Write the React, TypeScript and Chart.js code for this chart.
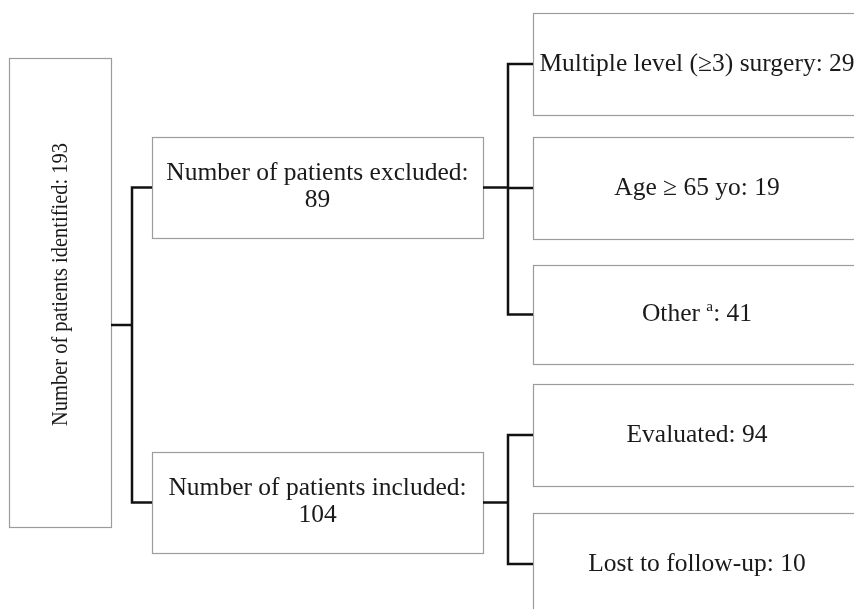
import React, { useEffect, useRef } from "react";
import { Chart, registerables } from "chart.js";

Chart.register(...registerables);

// ---- Data (flowchart content) ----
const ROOT_LABEL = "Number of patients identified";
const ROOT_COUNT = 193;
const GROUP_LABELS = ["Number of patients excluded", "Number of patients included"];
const GROUP_COUNTS = [89, 104];
const EXCLUSION_REASONS = ["Multiple level (\u22653) surgery", "Age \u2265 65 yo", "Other"];
const EXCLUSION_FOOTNOTES = ["", "", "a"];
const EXCLUSION_COUNTS = [29, 19, 41];
const INCLUDED_OUTCOMES = ["Evaluated", "Lost to follow-up"];
const INCLUDED_FOOTNOTES = ["", ""];
const INCLUDED_COUNTS = [94, 10];

// ---- Layout (scale units) ----
const SCALE_W = 854;
const SCALE_H = 609;
const COL_X: [number, number][] = [
  [9, 111],
  [152, 483],
  [533, 861],
];
const JUNCTION_X = [132, 508];
const ROOT_Y: [number, number] = [58, 527];
const ROOT_JOIN_Y = 325;
const GROUP_Y: [number, number][] = [
  [137, 238],
  [452, 553],
];
const CHILD_Y: [number, number][][] = [
  [
    [13, 115],
    [137, 239],
    [265, 364],
  ],
  [
    [384, 486],
    [513, 615],
  ],
];

const FONT_FAMILY = "'Times New Roman', 'Liberation Serif', serif";
const FONT_SIZE = 25.5;
const ROOT_FONT_SIZE = 22.5;
const ROOT_TEXT_LEN = 283;
const BOX_COLOR = "#9c9c9c";
const LINE_COLOR = "#111111";
const TEXT_COLOR = "#1a1a1a";

const mid = (r: [number, number]) => (r[0] + r[1]) / 2;

function buildConnectors() {
  const sets: { x: number; y: number }[][] = [];
  sets.push([
    { x: COL_X[0][1], y: ROOT_JOIN_Y },
    { x: JUNCTION_X[0], y: ROOT_JOIN_Y },
  ]);
  const g0 = mid(GROUP_Y[0]);
  const g1 = mid(GROUP_Y[GROUP_Y.length - 1]);
  sets.push([
    { x: COL_X[1][0], y: g0 },
    { x: JUNCTION_X[0], y: g0 },
    { x: JUNCTION_X[0], y: g1 },
    { x: COL_X[1][0], y: g1 },
  ]);
  GROUP_Y.forEach((gy, gi) => {
    const gc = mid(gy);
    sets.push([
      { x: COL_X[1][1], y: gc },
      { x: JUNCTION_X[1], y: gc },
    ]);
    const kids = CHILD_Y[gi];
    const first = mid(kids[0]);
    const last = mid(kids[kids.length - 1]);
    sets.push([
      { x: COL_X[2][0], y: first },
      { x: JUNCTION_X[1], y: first },
      { x: JUNCTION_X[1], y: last },
      { x: COL_X[2][0], y: last },
    ]);
    for (let k = 1; k < kids.length - 1; k++) {
      const c = mid(kids[k]);
      sets.push([
        { x: JUNCTION_X[1], y: c },
        { x: COL_X[2][0], y: c },
      ]);
    }
  });
  return sets;
}

function font(size: number) {
  return `${size}px ${FONT_FAMILY}`;
}

function drawLabel(
  ctx: CanvasRenderingContext2D,
  main: string,
  foot: string,
  tail: string,
  cx: number,
  cy: number
) {
  ctx.textBaseline = "middle";
  ctx.textAlign = "left";
  ctx.font = font(FONT_SIZE);
  const pre = foot ? main + " " : main;
  const w1 = ctx.measureText(pre).width;
  const w3 = ctx.measureText(tail).width;
  ctx.font = font(FONT_SIZE * 0.6);
  const w2 = foot ? ctx.measureText(foot).width : 0;
  const total = w1 + w2 + w3;
  let x = cx - total / 2;
  ctx.font = font(FONT_SIZE);
  ctx.fillText(pre, x, cy);
  x += w1;
  if (foot) {
    ctx.font = font(FONT_SIZE * 0.6);
    ctx.fillText(foot, x, cy - FONT_SIZE * 0.28);
    x += w2;
    ctx.font = font(FONT_SIZE);
  }
  ctx.fillText(tail, x, cy);
}

const flowPlugin = {
  id: "flowBoxes",
  beforeDatasetsDraw(chart: any) {
    const { ctx } = chart;
    const sx = chart.scales.x;
    const sy = chart.scales.y;
    const rect = (xr: [number, number], yr: [number, number]) => {
      const x0 = Math.round(sx.getPixelForValue(xr[0])) + 0.5;
      const x1 = Math.round(sx.getPixelForValue(xr[1])) + 0.5;
      const y0 = Math.round(sy.getPixelForValue(yr[0])) + 0.5;
      const y1 = Math.round(sy.getPixelForValue(yr[1])) + 0.5;
      ctx.fillStyle = "#ffffff";
      ctx.fillRect(x0, y0, x1 - x0, y1 - y0);
      ctx.strokeStyle = BOX_COLOR;
      ctx.lineWidth = 1.2;
      ctx.strokeRect(x0, y0, x1 - x0, y1 - y0);
    };
    ctx.save();
    rect(COL_X[0], ROOT_Y);
    GROUP_Y.forEach((gy) => rect(COL_X[1], gy));
    CHILD_Y.forEach((kids) => kids.forEach((ky) => rect(COL_X[2], ky)));
    ctx.restore();
  },
  afterDatasetsDraw(chart: any) {
    const { ctx } = chart;
    const sx = chart.scales.x;
    const sy = chart.scales.y;
    ctx.save();
    ctx.fillStyle = TEXT_COLOR;

    // root (rotated)
    const rootText = `${ROOT_LABEL}: ${ROOT_COUNT}`;
    ctx.font = font(ROOT_FONT_SIZE);
    const rw = ctx.measureText(rootText).width;
    const rcx = sx.getPixelForValue(mid(COL_X[0]));
    const rcy = sy.getPixelForValue(mid(ROOT_Y)) - 8;
    ctx.save();
    ctx.translate(rcx + 1, rcy);
    ctx.rotate(-Math.PI / 2);
    ctx.scale(ROOT_TEXT_LEN / rw, 1);
    ctx.textAlign = "center";
    ctx.textBaseline = "middle";
    ctx.fillText(rootText, 0, 0);
    ctx.restore();

    // groups (two lines)
    GROUP_Y.forEach((gy, gi) => {
      const cx = sx.getPixelForValue(mid(COL_X[1]));
      const cy = sy.getPixelForValue(mid(gy));
      ctx.font = font(FONT_SIZE);
      ctx.textAlign = "center";
      ctx.textBaseline = "middle";
      ctx.fillText(`${GROUP_LABELS[gi]}:`, cx, cy - 14);
      ctx.fillText(`${GROUP_COUNTS[gi]}`, cx, cy + 13);
    });

    // children
    const childLabels = [EXCLUSION_REASONS, INCLUDED_OUTCOMES];
    const childFoot = [EXCLUSION_FOOTNOTES, INCLUDED_FOOTNOTES];
    const childCounts = [EXCLUSION_COUNTS, INCLUDED_COUNTS];
    CHILD_Y.forEach((kids, gi) => {
      kids.forEach((ky, k) => {
        const cx = sx.getPixelForValue(mid(COL_X[2]));
        const cy = sy.getPixelForValue(mid(ky));
        drawLabel(ctx, childLabels[gi][k], childFoot[gi][k], `: ${childCounts[gi][k]}`, cx, cy);
      });
    });
    ctx.restore();
  },
};

export default function App() {
  const ref = useRef<HTMLCanvasElement | null>(null);
  useEffect(() => {
    document.body.style.margin = "0";
    const canvas = ref.current;
    if (!canvas) return;
    const connectors = buildConnectors();
    const chart = new Chart(canvas, {
      type: "scatter",
      data: {
        datasets: connectors.map((pts) => ({
          data: pts,
          showLine: true,
          borderColor: LINE_COLOR,
          borderWidth: 2.5,
          pointRadius: 0,
          pointHoverRadius: 0,
          tension: 0,
          borderJoinStyle: "miter" as const,
          borderCapStyle: "butt" as const,
          clip: false as any,
        })),
      },
      options: {
        animation: false,
        responsive: false,
        maintainAspectRatio: false,
        devicePixelRatio: 1,
        layout: { padding: 0 },
        events: [],
        plugins: {
          legend: { display: false },
          tooltip: { enabled: false },
        },
        scales: {
          x: { type: "linear", min: 0, max: SCALE_W, display: false },
          y: { type: "linear", min: 0, max: SCALE_H, reverse: true, display: false },
        },
      },
      plugins: [flowPlugin],
    });
    return () => chart.destroy();
  }, []);
  return (
    <div style={{ width: 854, height: 609, background: "#ffffff" }}>
      <canvas ref={ref} width={854} height={609} style={{ display: "block" }} />
    </div>
  );
}
